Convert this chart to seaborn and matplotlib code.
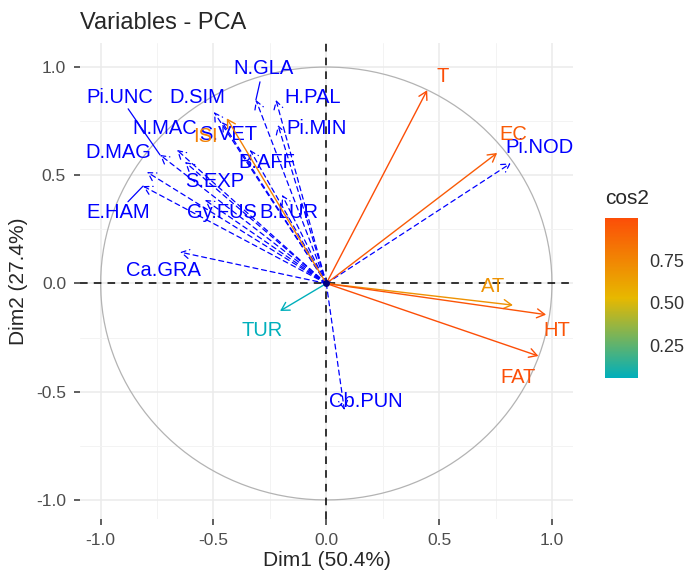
import numpy as np
import matplotlib.pyplot as plt
import matplotlib.colors as mcolors
from matplotlib.cm import ScalarMappable
import seaborn as sns

# active variables (coloured by cos2)
active_names = ['T', 'EC', 'AT', 'HT', 'FAT', 'TUR', 'ISI']
active_dim1 = [0.447, 0.757, 0.827, 0.974, 0.940, -0.205, -0.441]
active_dim2 = [0.893, 0.603, -0.100, -0.144, -0.335, -0.127, 0.763]

# supplementary quantitative variables (blue, dashed)
sup_names = ['Pi.NOD', 'Cb.PUN', 'Ca.GRA', 'E.HAM', 'D.MAG', 'Pi.UNC', 'N.MAC', 'D.SIM',
             'N.GLA', 'H.PAL', 'Pi.MIN', 'S.VET', 'B.AFF', 'S.EXP', 'Gy.FUS', 'B.LUR']
sup_dim1 = [0.817, 0.080, -0.648, -0.812, -0.795, -0.737, -0.662, -0.498,
            -0.312, -0.223, -0.214, -0.462, -0.338, -0.626, -0.538, -0.196]
sup_dim2 = [0.555, -0.584, 0.145, 0.450, 0.515, 0.594, 0.617, 0.792,
            0.848, 0.848, 0.732, 0.746, 0.617, 0.561, 0.386, 0.409]

# repelled label placement (data units)
label_pos = {
    'T': (0.517, 0.958), 'EC': (0.827, 0.686), 'AT': (0.738, -0.016), 'HT': (1.022, -0.219),
    'FAT': (0.850, -0.432), 'TUR': (-0.285, -0.215), 'ISI': (-0.537, 0.681),
    'Pi.NOD': (0.947, 0.626), 'Cb.PUN': (0.176, -0.547), 'Ca.GRA': (-0.720, 0.062),
    'E.HAM': (-0.923, 0.330), 'D.MAG': (-0.923, 0.603), 'Pi.UNC': (-0.914, 0.861),
    'N.MAC': (-0.715, 0.718), 'D.SIM': (-0.573, 0.861), 'N.GLA': (-0.280, 0.995),
    'H.PAL': (-0.059, 0.857), 'Pi.MIN': (-0.041, 0.718), 'S.VET': (-0.436, 0.686),
    'B.AFF': (-0.262, 0.557), 'S.EXP': (-0.493, 0.469), 'Gy.FUS': (-0.462, 0.330),
    'B.LUR': (-0.165, 0.330),
}
segment_labels = ['Pi.UNC', 'E.HAM', 'N.GLA']

sns.set_theme(style='whitegrid')
plt.rcParams['font.family'] = ['Liberation Sans', 'DejaVu Sans']
plt.rcParams['axes.unicode_minus'] = False

fig = plt.figure(figsize=(6.85, 5.71), dpi=100)
ax = fig.add_axes([80 / 685, 1 - 519 / 571, 493 / 685, 476 / 571])

ax.set_xlim(-1.0915, 1.0933)
ax.set_ylim(-1.088, 1.111)

ax.set_xticks([-1.0, -0.5, 0.0, 0.5, 1.0])
ax.set_yticks([-1.0, -0.5, 0.0, 0.5, 1.0])
ax.set_xticks([-0.75, -0.25, 0.25, 0.75], minor=True)
ax.set_yticks([-0.75, -0.25, 0.25, 0.75], minor=True)
ax.grid(which='major', color='#EBEBEB', lw=1.1)
ax.grid(which='minor', color='#F3F3F3', lw=0.7)
for s in ax.spines.values():
    s.set_visible(False)
ax.tick_params(which='major', length=4, width=1.1, color='#333333', labelsize=12.5,
               labelcolor='#4D4D4D', pad=6, bottom=True, left=True)
ax.tick_params(which='minor', length=0)
ax.set_axisbelow(True)

# correlation circle
theta = np.linspace(0, 2 * np.pi, 300)
sns.lineplot(x=np.cos(theta), y=np.sin(theta), sort=False, estimator=None,
             color='#B3B3B3', lw=0.9, ax=ax)

ax.axhline(0, color='black', lw=1.1, ls=(0, (5, 4)))
ax.axvline(0, color='black', lw=1.1, ls=(0, (5, 4)))

cos2 = np.array(active_dim1) ** 2 + np.array(active_dim2) ** 2
cmap = mcolors.LinearSegmentedColormap.from_list('grad', ['#00AFBB', '#E7B800', '#FC4E07'])
norm = mcolors.Normalize(vmin=cos2.min(), vmax=cos2.max())

astyle = '->,head_length=0.4,head_width=0.23'

for name, x, y in zip(sup_names, sup_dim1, sup_dim2):
    ax.annotate('', xy=(x, y), xytext=(0, 0),
                arrowprops=dict(arrowstyle=astyle, color='blue', lw=0.9, ls=(0, (4, 3)),
                                shrinkA=0, shrinkB=0, mutation_scale=14))
    lx, ly = label_pos[name]
    ax.text(lx, ly, name, color='blue', fontsize=14.5, ha='center', va='center')
    if name in segment_labels:
        d = np.array([x - lx, y - ly])
        start = np.array([lx, ly]) + d / np.linalg.norm(d) * 0.065
        ax.plot([start[0], x], [start[1], y], color='blue', lw=0.9)

for name, x, y, c in zip(active_names, active_dim1, active_dim2, cos2):
    col = cmap(norm(c))
    ax.annotate('', xy=(x, y), xytext=(0, 0),
                arrowprops=dict(arrowstyle=astyle, color=col, lw=1.0,
                                shrinkA=0, shrinkB=0, mutation_scale=14))
    lx, ly = label_pos[name]
    ax.text(lx, ly, name, color=col, fontsize=14.5, ha='center', va='center')

sns.scatterplot(x=[0], y=[0], color='#000080', s=25, ax=ax, zorder=5, linewidth=0)

ax.set_title('Variables - PCA', loc='left', fontsize=17, pad=10)
ax.set_xlabel('Dim1 (50.4%)', fontsize=15, labelpad=2)
ax.set_ylabel('Dim2 (27.4%)', fontsize=15, labelpad=6)

# colour bar legend
cax = fig.add_axes([605 / 685, 1 - 378 / 571, 33 / 685, 160 / 571])
sm = ScalarMappable(norm=norm, cmap=cmap)
cb = fig.colorbar(sm, cax=cax)
cb.outline.set_visible(False)
cb.set_ticks([0.25, 0.50, 0.75])
cb.set_ticklabels(['0.25', '0.50', '0.75'])
cax.tick_params(direction='in', color='white', length=6, width=1, left=True, right=True,
                labelsize=13, labelcolor='#333333', pad=8)
cax.set_title('cos2', loc='left', fontsize=15, pad=10)

plt.savefig('out.png', dpi=100)
plt.close()
